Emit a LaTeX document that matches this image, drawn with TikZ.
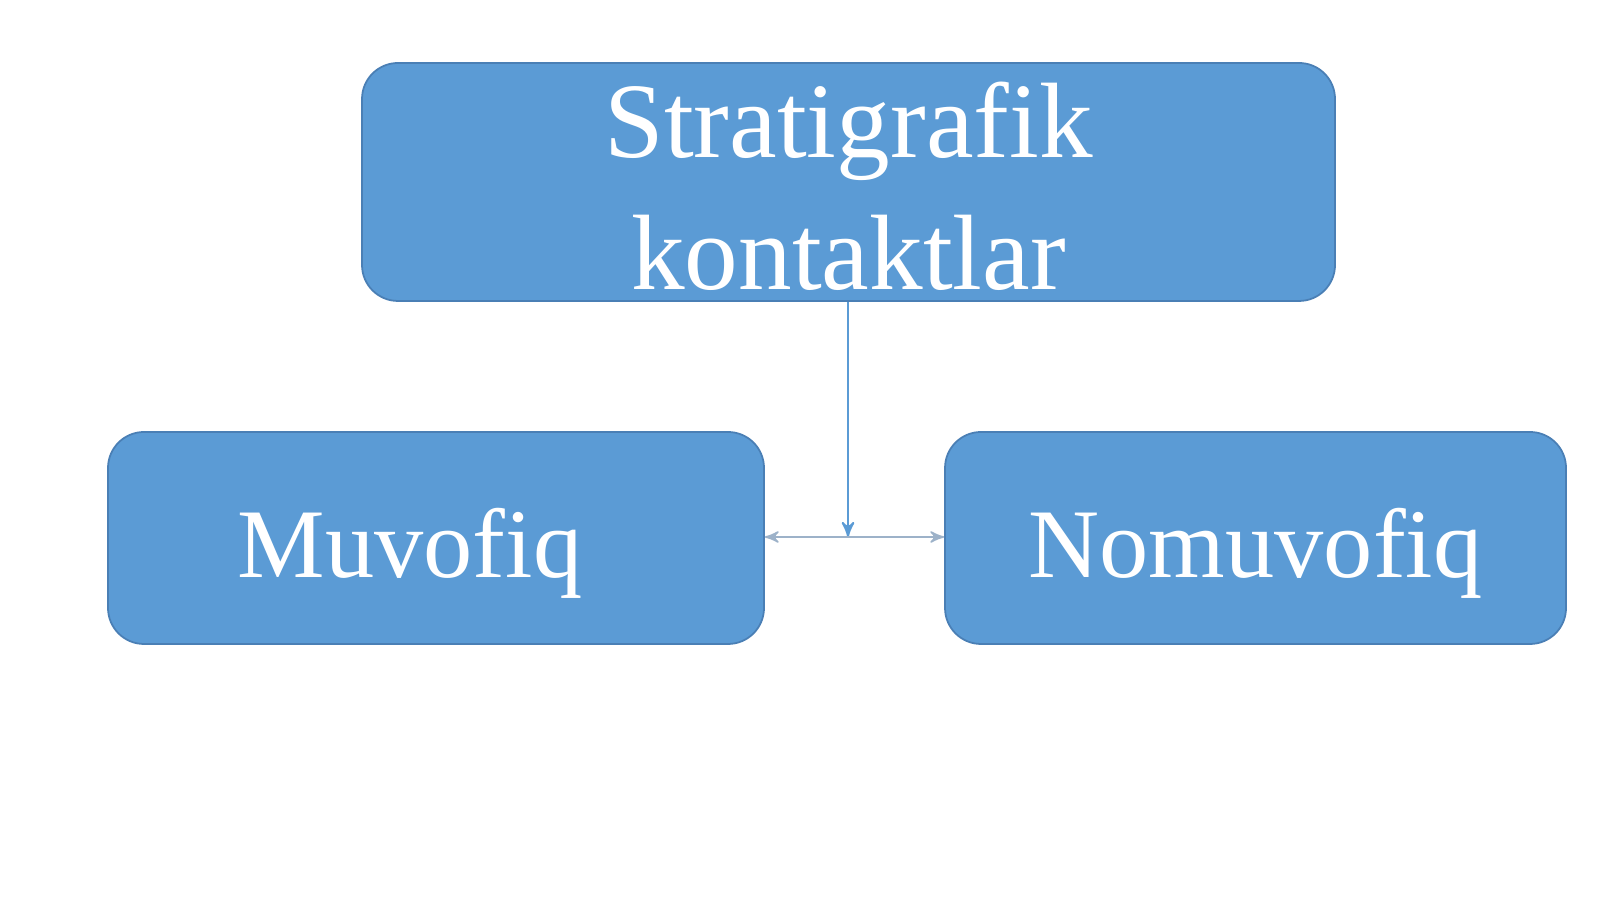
\documentclass[tikz,border=0pt]{standalone}
\usepackage{fontspec}
\setmainfont[Ligatures=NoCommon]{Liberation Serif}
\usepackage{tikz}
\usetikzlibrary{arrows}
\definecolor{boxfill}{HTML}{5B9BD5}
\definecolor{boxline}{HTML}{4A7FB5}
\definecolor{linkgray}{HTML}{9DB2C9}
\tikzset{
  blok/.style = {rectangle, rounded corners=0.36cm, fill=boxfill,
    draw=boxline, line width=0.5pt, text=white, inner sep=0pt},
  blok_t/.style = {blok, minimum width=9.73cm, minimum height=2.38cm,
    align=center, font=\fontsize{30.5}{37.5}\selectfont},% asosiy blok
  blok_s/.style = {blok, minimum width=6.56cm, minimum height=2.12cm,
    text height=28pt, text depth=5.5pt,
    font=\fontsize{28}{34}\selectfont}% quyi blok
}

\begin{document}
\begin{tikzpicture}[>=stealth']
  	\useasboundingbox (0,0) rectangle (16,8.99);
  	\node [blok_t] (strat) at (8.485,7.17) {\rule{0pt}{24pt}Stratigrafik\\kontaktlar};
  	\node [blok_s] (muv) at (4.36,3.61) {Muvofiq\hspace*{0.52cm}};
  	\node [blok_s, minimum width=6.21cm] (nomuv) at (12.555,3.61) {Nomuvofiq};
  	\coordinate (tugun) at (8.48,3.62);

	\draw [->, boxfill, line width=0.6pt] (strat.south -| tugun) -- (tugun);
	\foreach \to in {muv.east,nomuv.west}
    	  \draw [->, linkgray, line width=0.5pt] (tugun) -- (\to |- tugun);
\end{tikzpicture}
\end{document}
